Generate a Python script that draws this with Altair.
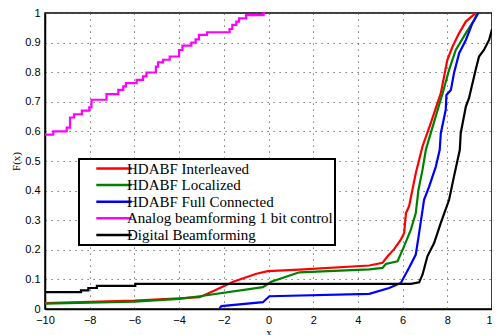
import altair as alt
import pandas as pd

series_names = [
    "HDABF Interleaved",
    "HDABF Localized",
    "HDABF Full Connected",
    "Analog beamforming 1 bit control",
    "Digital Beamforming",
]
series_colors = ["#ff0000", "#008000", "#0000ff", "#ff00ff", "#000000"]

red_x = [-10, -6, -4, -3.08, -2.63, -1.58, -0.54, -0.03, 1.38, 4.51, 5.1, 5.33, 5.63, 5.92, 6.07, 6.15,
         6.29, 6.44, 6.59, 6.74, 6.89, 7.26, 7.71, 8.0, 8.23, 8.53, 8.83, 9.27]
red_y = [0.02, 0.028, 0.036, 0.04, 0.055, 0.092, 0.119, 0.128, 0.133, 0.147, 0.156, 0.178, 0.203, 0.234, 0.257, 0.324,
         0.347, 0.403, 0.459, 0.504, 0.549, 0.628, 0.729, 0.841, 0.886, 0.932, 0.971, 1.0]

green_x = [-10, -6, -4, -3.08, -0.25, 0.12, 1.38, 4.51, 5.1, 5.25, 5.77, 6.0, 6.37, 6.59, 6.71, 6.89,
           7.04, 7.26, 7.79, 8.08, 8.38, 8.83, 9.2, 9.35]
green_y = [0.018, 0.025, 0.034, 0.043, 0.074, 0.092, 0.124, 0.134, 0.139, 0.152, 0.161, 0.2, 0.268, 0.324, 0.403, 0.47,
           0.538, 0.594, 0.729, 0.808, 0.875, 0.932, 0.976, 1.0]

blue_x = [-2.19, -2.11, -0.25, 0.04, 4.51, 5.4, 5.92, 6.29, 6.59, 6.74, 6.96, 7.19, 7.49, 7.66, 7.71,
          7.93, 7.96, 8.16, 8.3, 8.53, 8.83, 9.12, 9.3, 9.39]
blue_y = [0.002, 0.01, 0.023, 0.043, 0.051, 0.071, 0.088, 0.139, 0.184, 0.257, 0.369, 0.414, 0.482, 0.538, 0.594,
          0.673, 0.723, 0.74, 0.797, 0.864, 0.909, 0.965, 0.988, 1.0]

analog_x = [-10, -9.63, -9.03, -8.88, -8.7, -8.35, -8.02, -7.92, -7.25, -6.72, -6.5, -6.38, -5.9, -5.61, -5.46,
            -5.04, -4.94, -4.72, -4.42, -4.0, -3.85, -3.45, -3.26, -3.11, -2.75, -1.74, -1.62, -1.44, -1.32,
            -1.0, -0.22, -0.15]
analog_y = [0.589, 0.6, 0.613, 0.647, 0.658, 0.67, 0.681, 0.707, 0.726, 0.74, 0.752, 0.763, 0.774, 0.786, 0.799,
            0.819, 0.833, 0.842, 0.853, 0.875, 0.89, 0.9, 0.911, 0.926, 0.935, 0.946, 0.96, 0.971, 0.982,
            0.993, 1.0, 1.0]

digital_x = [-10, -8.39, -8.39, -8.06, -8.06, -7.68, -7.68, -5.96, -5.96, 6.37, 6.74, 6.89, 7.11, 7.41, 7.71,
             8.08, 8.3, 8.56, 8.6, 8.83, 8.97, 9.27, 9.42, 9.64, 9.87, 10.0]
digital_y = [0.057, 0.057, 0.063, 0.063, 0.071, 0.071, 0.078, 0.078, 0.085, 0.085, 0.09, 0.116, 0.178, 0.223, 0.291,
             0.369, 0.448, 0.538, 0.594, 0.684, 0.712, 0.808, 0.853, 0.875, 0.909, 0.945]

x_ticks = list(range(-10, 11, 2))
y_ticks = [0, 0.1, 0.2, 0.3, 0.4, 0.5, 0.6, 0.7, 0.8, 0.9, 1.0]

rows = []
for name, xs, ys in [
    (series_names[0], red_x, red_y),
    (series_names[1], green_x, green_y),
    (series_names[2], blue_x, blue_y),
    (series_names[4], digital_x, digital_y),
]:
    for i, (xv, yv) in enumerate(zip(xs, ys)):
        rows.append({"series": name, "x": xv, "y": yv, "idx": i})
df_lines = pd.DataFrame(rows)
df_analog = pd.DataFrame({"series": series_names[3], "x": analog_x, "y": analog_y,
                          "idx": list(range(len(analog_x)))})

SERIF = "Liberation Serif"
NBSP = "\u00a0"

color = alt.Color(
    "series:N",
    scale=alt.Scale(domain=series_names, range=series_colors),
    legend=alt.Legend(
        title=None,
        orient="none",
        legendX=34,
        legendY=146,
        symbolType="M2.6,0H14.4",
        symbolSize=36,
        symbolStrokeWidth=2.5,
        labelFont=SERIF,
        labelFontSize=15,
        labelColor="black",
        labelOffset=31,
        labelLimit=400,
        labelExpr="datum.label + '" + NBSP * 4 + "'",
        rowPadding=0.6,
        padding=2,
        strokeColor="black",
        fillColor="white",
    ),
)

xscale = alt.Scale(domain=[-10, 10], nice=False, zero=False)
yscale = alt.Scale(domain=[0, 1], nice=False)

xaxis = alt.Axis(values=x_ticks, format="d", title="x", titleFont=SERIF,
                 titleFontSize=11, titleFontWeight="normal", titleY=26,
                 titleBaseline="alphabetic", labelFlush=False, labelOverlap=False)
yaxis = alt.Axis(values=y_ticks, format=".1~f", title="F(x)", titleFont=SERIF,
                 titleFontSize=11, titleFontWeight="normal", titlePadding=3,
                 labelFlush=False, labelOverlap=False)

lines = alt.Chart(df_lines).mark_line(strokeWidth=2.2).encode(
    x=alt.X("x:Q", scale=xscale, axis=xaxis),
    y=alt.Y("y:Q", scale=yscale, axis=yaxis),
    color=color,
    order="idx:Q",
    detail="series:N",
)

analog = alt.Chart(df_analog).mark_line(strokeWidth=2.2, interpolate="step-after").encode(
    x=alt.X("x:Q", scale=xscale, axis=xaxis),
    y=alt.Y("y:Q", scale=yscale, axis=yaxis),
    color=color,
    order="idx:Q",
)

chart = alt.layer(analog, lines).properties(
    width=447,
    height=296,
    padding={"left": 37, "top": 5, "right": 0, "bottom": 28},
    autosize=alt.AutoSizeParams(type="none"),
    background="white",
).configure_view(
    stroke="black", strokeWidth=1.5,
).configure_axis(
    grid=True,
    gridColor="#555555",
    gridDash=[1.2, 4.8],
    gridWidth=1,
    gridOpacity=1,
    domainColor="black",
    domainWidth=1.5,
    tickSize=0,
    labelFont="Liberation Sans",
    labelFontSize=11,
    labelColor="black",
    titleColor="black",
    labelPadding=5,
).configure_legend(
    labelFont=SERIF,
    labelFontSize=15,
    strokeWidth=2,
)

chart.save("out.html", embed_options={"renderer": "svg", "actions": False})
